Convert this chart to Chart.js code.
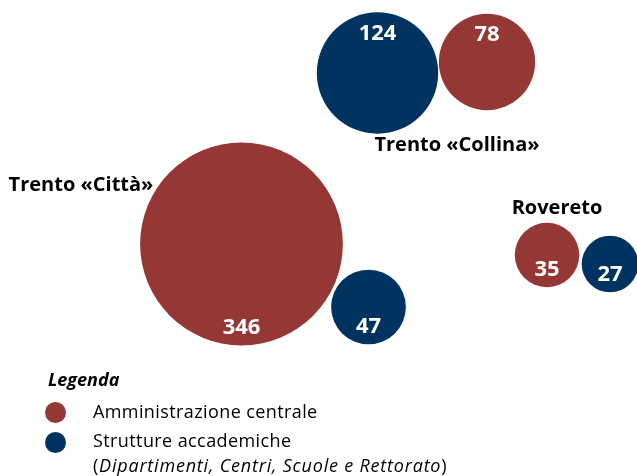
<!DOCTYPE html>
<html>
<head>
<meta charset="utf-8">
<script src="https://cdn.jsdelivr.net/npm/chart.js@4/dist/chart.umd.min.js"></script>
<style>
  html, body { margin: 0; padding: 0; background: #fff; }
  #wrap { position: relative; width: 637px; height: 476px; overflow: hidden; }
  #bubbles { position: absolute; left: 0; top: 0; }
  .legend { position: absolute; left: 0; top: 0; font-family: "Open Sans", sans-serif; color: #000; }
  .legend .title { position: absolute; left: 48px; top: 367px; font-weight: bold; font-style: italic; font-size: 18px; }
  .legend .dot { position: absolute; left: 45px; width: 21px; height: 21px; border-radius: 50%; }
  .legend .item { position: absolute; left: 93px; font-size: 18px; white-space: nowrap; letter-spacing: 0.4px; }
</style>
</head>
<body>
<div id="wrap">
  <canvas id="bubbles" width="637" height="476"></canvas>
  <div class="legend">
    <div class="title">Legenda</div>
    <div class="dot" style="top:402px; background:#953735"></div>
    <div class="item" style="top:399px">Amministrazione centrale</div>
    <div class="dot" style="top:432px; background:#00335f"></div>
    <div class="item" style="top:428px">Strutture accademiche</div>
    <div class="item" style="top:453px; letter-spacing:0.8px">(<i>Dipartimenti, Centri, Scuole e Rettorato</i>)</div>
  </div>
</div>
<script>
// sedi e valori (layout 637 x 476, asse y dall'alto)
const sedi = ['Trento «Collina»', 'Trento «Collina»', 'Trento «Città»', 'Trento «Città»', 'Rovereto', 'Rovereto'];
const tipi = ['accademiche', 'centrale', 'centrale', 'accademiche', 'centrale', 'accademiche'];
const valori = [124, 78, 346, 47, 35, 27];
const posX = [377.5, 487, 241.5, 368.5, 547, 610];
const posY = [73, 62, 244, 307, 255, 264];
const posEtichetta = ['top', 'top', 'bottom', 'bottom', 'bottom', 'bottom'];

const nomiSedi = ['Trento «Collina»', 'Trento «Città»', 'Rovereto'];
const nomiX = [457, 81, 557];
const nomiY = [145, 185, 208];

const colori = { centrale: '#953735', accademiche: '#00335f' };
const FONT = '"Open Sans", sans-serif';

const punti = valori.map((v, i) => ({ x: posX[i], y: posY[i], r: 5.45 * Math.sqrt(v), v: v }));

const etichette = {
    id: 'etichette',
    afterDatasetsDraw(chart) {
        const ctx = chart.ctx;
        const xs = chart.scales.x, ys = chart.scales.y;
        ctx.save();
        ctx.textAlign = 'center';
        ctx.textBaseline = 'middle';

        // valori dentro le bolle
        ctx.fillStyle = '#fff';
        ctx.font = 'bold 22px ' + FONT;
        punti.forEach((p, i) => {
            const cx = xs.getPixelForValue(p.x);
            const cy = ys.getPixelForValue(p.y);
            const ty = posEtichetta[i] === 'top' ? cy - p.r + 21 : cy + p.r - 18;
            ctx.fillText(String(p.v), cx, ty);
        });

        // nomi delle sedi
        ctx.fillStyle = '#000';
        ctx.font = 'bold 20px ' + FONT;
        nomiSedi.forEach((n, i) => {
            ctx.fillText(n, xs.getPixelForValue(nomiX[i]), ys.getPixelForValue(nomiY[i]));
        });
        ctx.restore();
    }
};

new Chart(document.getElementById('bubbles'), {
    type: 'bubble',
    data: {
        datasets: [{
            data: punti,
            backgroundColor: tipi.map(t => colori[t]),
            borderWidth: 0,
            hoverBorderWidth: 0,
            clip: false
        }]
    },
    options: {
        responsive: false,
        animation: false,
        events: [],
        layout: { padding: 0, autoPadding: false },
        plugins: { legend: { display: false }, tooltip: { enabled: false } },
        scales: {
            x: { display: false, min: 0, max: 637 },
            y: { display: false, min: 0, max: 476, reverse: true }
        }
    },
    plugins: [etichette]
});
</script>
</body>
</html>
